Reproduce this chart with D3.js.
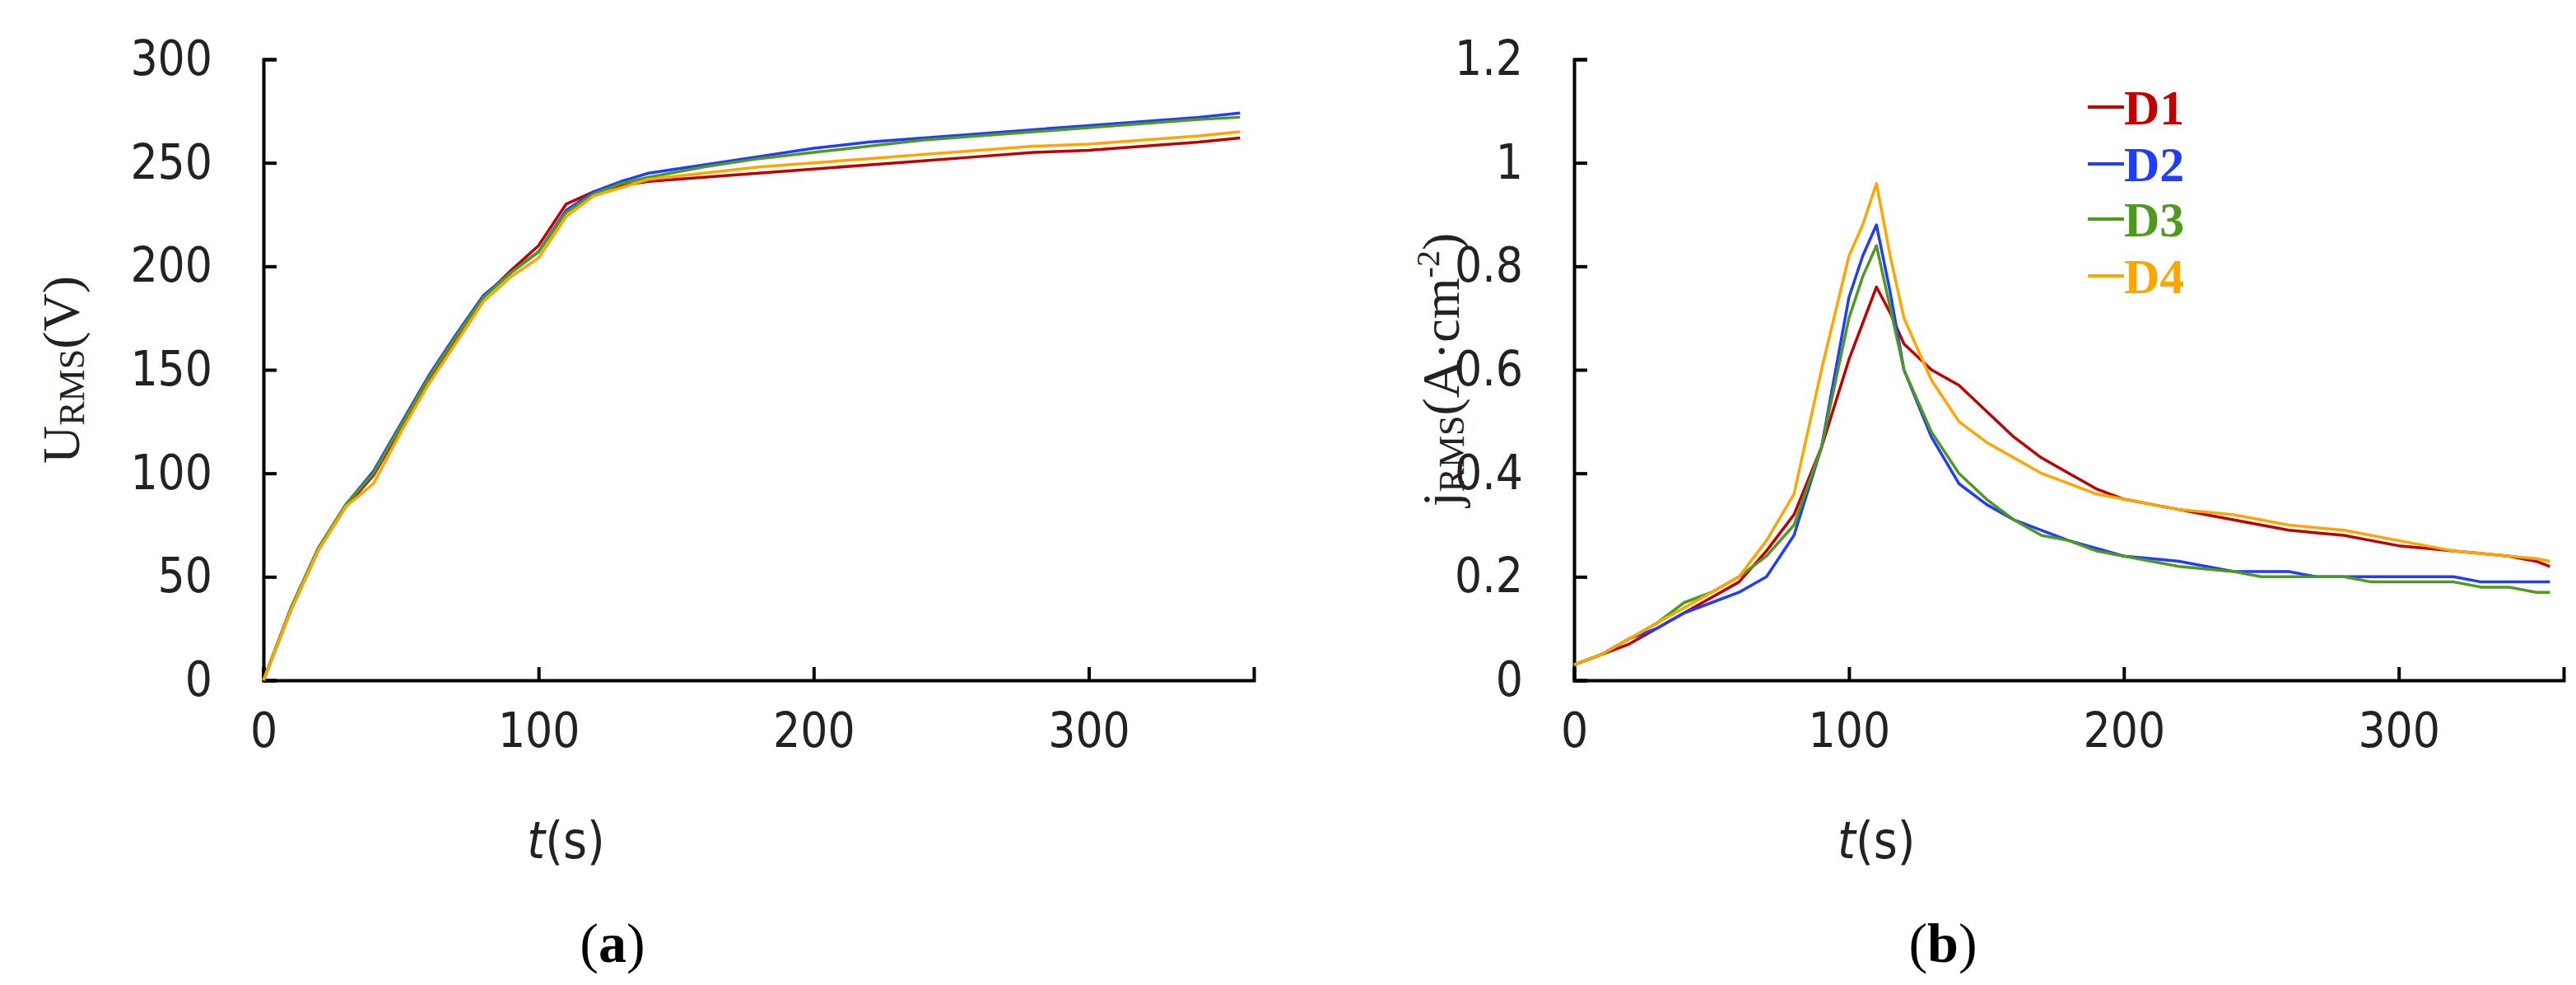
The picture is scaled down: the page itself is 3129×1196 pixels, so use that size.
<!DOCTYPE html>
<html><head><meta charset="utf-8">
<script src="https://cdn.jsdelivr.net/npm/d3@7"></script>
<style>body{margin:0;background:#fff}</style></head>
<body><svg id="c" width="3129" height="1196"></svg>
<script>
const seriesNames = ["D1","D2","D3","D4"];
const colors = ["#C00000","#1F3CFF","#4E9A1E","#FFA500"];
const timeU = [0,10,20,30,40,50,60,70,80,90,100,110,120,130,140,160,180,200,220,240,260,280,300,320,340,355];
const uD1 = [0,34,63,84,99,122,145,165,185,198,210,230,236,239,241,243,245,247,249,251,253,255,256,258,260,262];
const uD2 = [0,35,64,85,101,124,147,167,186,197,207,227,236,241,245,249,253,257,260,262,264,266,268,270,272,274];
const uD3 = [0,35,64,85,100,123,146,166,185,197,207,226,235,240,243,248,252,255,258,261,263,265,267,269,271,272];
const uD4 = [0,34,63,84,95,120,143,163,183,195,204,224,234,238,242,245,248,250,252,254,256,258,259,261,263,265];
const timeJ = [0,10,20,30,40,50,60,70,80,90,100,105,110,115,120,130,140,150,160,170,180,190,200,210,220,230,240,250,260,270,280,290,300,310,320,330,340,350,355];
const jD1 = [0.03,0.05,0.07,0.1,0.13,0.16,0.19,0.25,0.32,0.45,0.62,0.69,0.76,0.71,0.65,0.6,0.57,0.52,0.47,0.43,0.4,0.37,0.35,0.34,0.33,0.32,0.31,0.3,0.29,0.285,0.28,0.27,0.26,0.255,0.25,0.245,0.24,0.23,0.22];
const jD2 = [0.03,0.05,0.08,0.1,0.13,0.15,0.17,0.2,0.28,0.45,0.74,0.82,0.88,0.75,0.6,0.47,0.38,0.34,0.31,0.29,0.27,0.255,0.24,0.235,0.23,0.22,0.21,0.21,0.21,0.2,0.2,0.2,0.2,0.2,0.2,0.19,0.19,0.19,0.19];
const jD3 = [0.03,0.05,0.08,0.11,0.15,0.17,0.2,0.24,0.3,0.45,0.7,0.78,0.84,0.72,0.6,0.48,0.4,0.35,0.31,0.28,0.27,0.25,0.24,0.23,0.22,0.215,0.21,0.2,0.2,0.2,0.2,0.19,0.19,0.19,0.19,0.18,0.18,0.17,0.17];
const jD4 = [0.03,0.05,0.08,0.11,0.14,0.17,0.2,0.27,0.36,0.6,0.82,0.88,0.96,0.82,0.7,0.58,0.5,0.46,0.43,0.4,0.38,0.36,0.35,0.34,0.33,0.325,0.32,0.31,0.3,0.295,0.29,0.28,0.27,0.26,0.25,0.245,0.24,0.235,0.23];
const xTicks = [0,100,200,300];
const uTicks = [0,50,100,150,200,250,300];
const jTicks = [0,0.2,0.4,0.6,0.8,1,1.2];

const svg = d3.select("#c");
const tickFont = "'DejaVu Sans Condensed','DejaVu Sans',sans-serif";
const serif = "'Liberation Serif',serif";

function panel(x0, xAxisEnd, yTop, yBot, yMax, yTickVals, fmt, times, vals, letterX, letter) {
  const x = d3.scaleLinear().domain([0,360]).range([x0, xAxisEnd]);
  const y = d3.scaleLinear().domain([0,yMax]).range([yBot, yTop]);
  const g = svg.append("g");
  const ya = g.append("g").attr("transform",`translate(${x0},0)`)
    .call(d3.axisLeft(y).tickValues(yTickVals).tickSize(-16).tickFormat(fmt).tickPadding(62));
  const xa = g.append("g").attr("transform",`translate(0,${yBot})`)
    .call(d3.axisBottom(x).tickValues(xTicks).tickSize(-16).tickPadding(40));
  [ya,xa].forEach(a=>{
    a.select(".domain").attr("stroke","#000").attr("stroke-width",4);
    a.selectAll(".tick line").attr("stroke","#000").attr("stroke-width",4);
    a.selectAll("text").attr("font-family",tickFont).attr("font-size",58).attr("fill","#222");
  });
  const line = d3.line().x((d,i)=>x(times[i])).y(d=>y(d));
  vals.forEach((v,k)=>{
    g.append("path").datum(v).attr("d",line).attr("fill","none")
      .attr("stroke",colors[k]).attr("stroke-width",3.5).attr("stroke-linejoin","round");
  });
  g.append("text").attr("x",x(110)).attr("y",1042).attr("text-anchor","middle")
    .attr("font-family",tickFont).attr("font-size",62).attr("fill","#222")
    .html('<tspan font-style="italic">t</tspan>(s)');
  g.append("text").attr("x",letterX).attr("y",1168).attr("text-anchor","middle")
    .attr("font-family",serif).attr("font-size",68).attr("fill","#000")
    .html(`(<tspan font-weight="bold">${letter}</tspan>)`);
  return {g,x,y};
}

const a = panel(320, 1523, 72, 826, 300, uTicks, d=>d, timeU, [uD1,uD2,uD3,uD4], 744, "a");
a.g.append("text").attr("transform",`translate(96,449) rotate(-90)`)
  .attr("text-anchor","middle").attr("font-family",serif).attr("font-size",64).attr("fill","#222")
  .html('U<tspan font-size="44" dy="6">RMS</tspan><tspan dy="-6">(V)</tspan>');

const b = panel(1912, 3114, 72, 826, 1.2, jTicks, d=>+d.toFixed(1), timeJ, [jD1,jD2,jD3,jD4], 2360, "b");
b.g.append("text").attr("transform",`translate(1772,449) rotate(-90)`)
  .attr("text-anchor","middle").attr("font-family",serif).attr("font-size",64).attr("fill","#222")
  .html('j<tspan font-size="44" dy="6">RMS</tspan><tspan dy="-6">(A·cm</tspan><tspan font-size="40" dy="-24">-2</tspan><tspan dy="24">)</tspan>');

const legY = [130,199,266,335];
seriesNames.forEach((n,k)=>{
  svg.append("line").attr("x1",2536).attr("x2",2580).attr("y1",legY[k]).attr("y2",legY[k])
    .attr("stroke",colors[k]).attr("stroke-width",4);
  svg.append("text").attr("x",2580).attr("y",legY[k]+21).attr("font-family",serif)
    .attr("font-weight","bold").attr("font-size",60).attr("fill",colors[k]).text(n);
});
</script></body></html>
